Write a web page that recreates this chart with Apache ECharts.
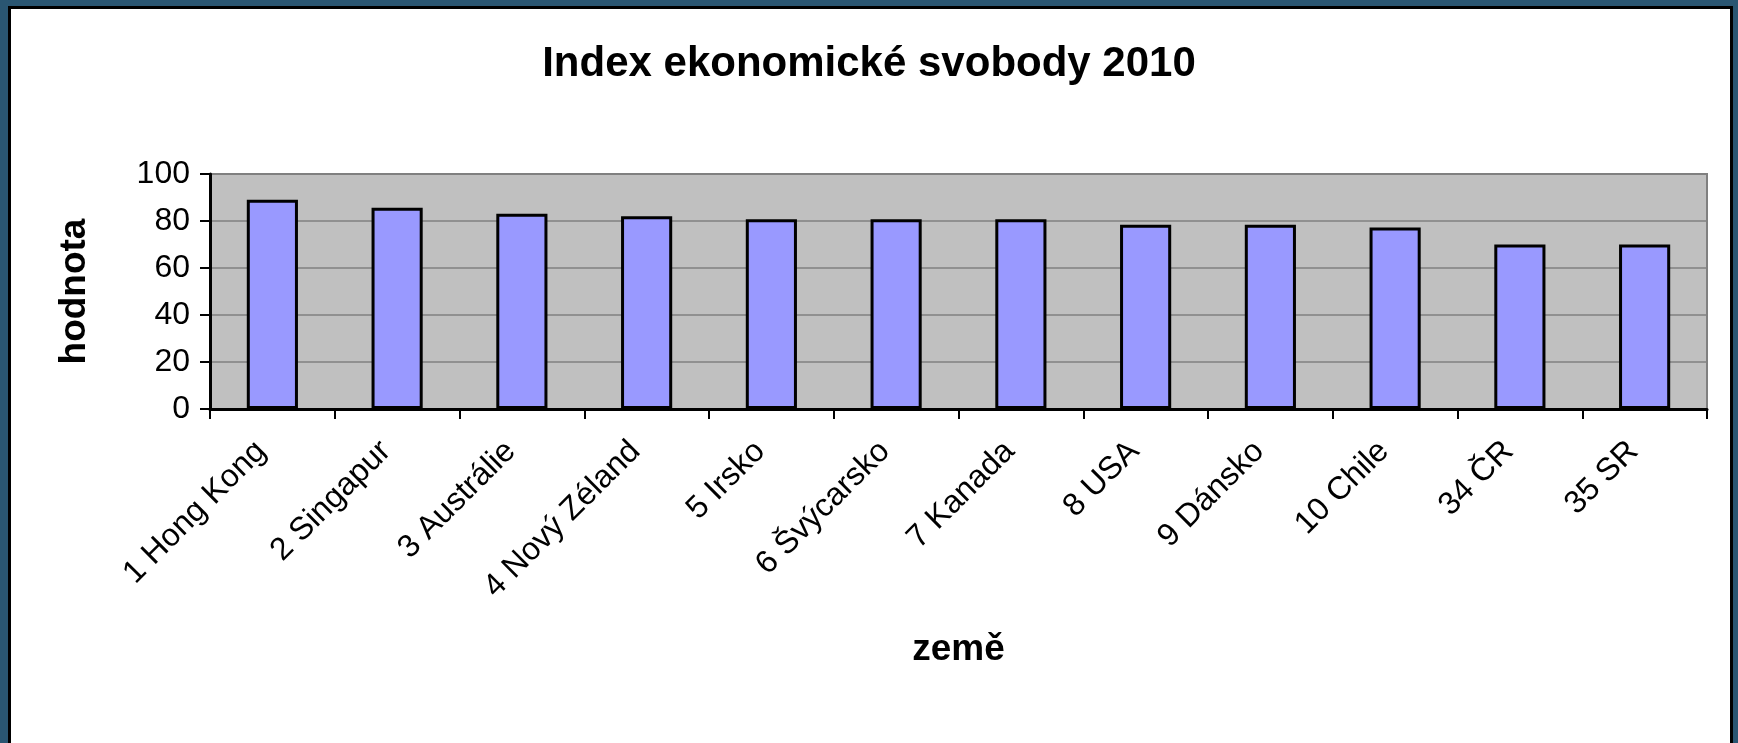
<!DOCTYPE html>
<html>
<head>
<meta charset="utf-8">
<script src="https://cdn.jsdelivr.net/npm/echarts@6/dist/echarts.min.js"></script>
<style>
html,body{margin:0;padding:0;background:#2a5672;}
#c{width:1738px;height:743px;}
</style>
</head>
<body>
<div id="c"></div>
<script>
const titleText = 'Index ekonomické svobody 2010';
const xName = 'země';
const yName = 'hodnota';
const categories = ['1 Hong Kong','2 Singapur','3 Austrálie','4 Nový Zéland','5 Irsko','6 Švýcarsko','7 Kanada','8 USA','9 Dánsko','10 Chile','34 ČR','35 SR'];
const values = [89.0, 85.6, 83.1, 82.0, 80.7, 80.7, 80.7, 78.4, 78.4, 77.2, 70.0, 70.0];
const yTicks = [0, 20, 40, 60, 80, 100];

const font = '"Liberation Sans", Arial, sans-serif';
const chart = echarts.init(document.getElementById('c'));
chart.setOption({
  backgroundColor: '#2a5672',
  animation: false,
  graphic: [{
    type: 'rect', z: -10, silent: true,
    shape: {x: 9.5, y: 7.5, width: 1722, height: 770},
    style: {fill: '#ffffff', stroke: '#000000', lineWidth: 3}
  }],
  title: {
    text: titleText, left: 'center', top: 38,
    textStyle: {fontFamily: font, fontSize: 42, fontWeight: 'bold', color: '#000'}
  },
  grid: {
    left: 210, right: 31, top: 174, bottom: 334,
    show: true, backgroundColor: '#c0c0c0', borderColor: '#808080', borderWidth: 2
  },
  xAxis: {
    type: 'category', data: categories,
    name: xName, nameLocation: 'middle', nameGap: 222,
    nameTextStyle: {fontFamily: font, fontSize: 37, fontWeight: 'bold', color: '#000'},
    axisLine: {lineStyle: {color: '#000', width: 3}},
    axisTick: {show: true, length: 10, lineStyle: {color: '#000', width: 2}},
    axisLabel: {interval: 0, rotate: 45, margin: 26, padding: [0, 16, 0, 0], fontFamily: font, fontSize: 32, color: '#000'}
  },
  yAxis: {
    type: 'value', min: yTicks[0], max: yTicks[yTicks.length - 1], interval: yTicks[1] - yTicks[0],
    name: yName, nameLocation: 'middle', nameGap: 117,
    nameTextStyle: {fontFamily: font, fontSize: 37, fontWeight: 'bold', color: '#000'},
    axisLine: {show: true, lineStyle: {color: '#000', width: 3}},
    axisTick: {show: true, length: 10, lineStyle: {color: '#000', width: 2}},
    axisLabel: {margin: 20, fontFamily: font, fontSize: 32, color: '#000'},
    splitLine: {show: true, lineStyle: {color: '#808080', width: 1.5}}
  },
  series: [{
    type: 'bar', data: values, barWidth: '41%',
    itemStyle: {color: '#9999ff', borderColor: '#000', borderWidth: 3}
  }]
});
</script>
</body>
</html>
